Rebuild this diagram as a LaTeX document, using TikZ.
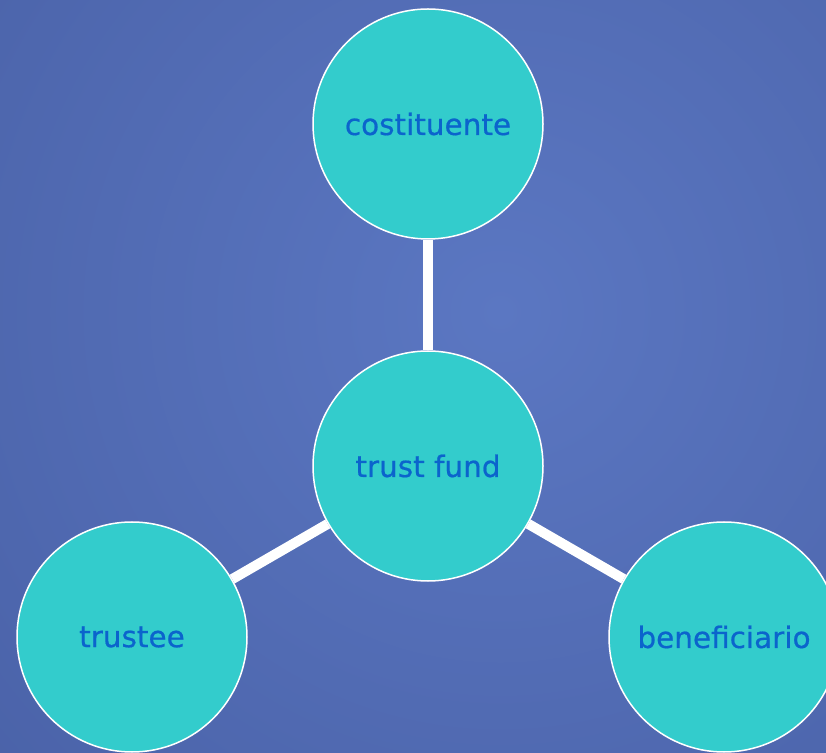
\documentclass[tikz,border=0pt]{standalone}
\usepackage{fontspec}
\setmainfont{DejaVu Sans}
\newfontfamily\lblfont[FakeBold=0.6]{DejaVu Sans}
\definecolor{bgin}{HTML}{5B77C2}
\definecolor{bgout}{HTML}{4A62A8}
\definecolor{bubble}{HTML}{33CCCC}
\definecolor{txt}{HTML}{0B64CC}
\newcommand{\lbltext}[1]{\raisebox{-2.5pt}{#1}}
\tikzset{
  bubblenode/.style={circle, fill=bubble, draw=white, line width=1.5pt, minimum size=230pt, inner sep=0pt, text=txt, font=\lblfont\fontsize{29.5}{32}\selectfont},
  spoke/.style={draw=white, line width=10pt}
}
\begin{document}
\begin{tikzpicture}[x=1pt,y=1pt]
\useasboundingbox (0,0) rectangle (826,752);
\begin{scope}
\clip (0,0) rectangle (826,752);
\shade[inner color=bgin, outer color=bgout] (500,440) circle (700);
\end{scope}
\node[bubblenode] (top) at (428,628) {\lbltext{costituente}};
\node[bubblenode] (mid) at (428,286) {\lbltext{trust fund}};
\node[bubblenode] (left) at (132,115) {\lbltext{trustee}};
\node[bubblenode] (right) at (724,115) {\lbltext{beneficiario}};
\draw[spoke] (top) -- (mid);
\draw[spoke] (mid) -- (left);
\draw[spoke] (mid) -- (right);
\end{tikzpicture}
\end{document}
